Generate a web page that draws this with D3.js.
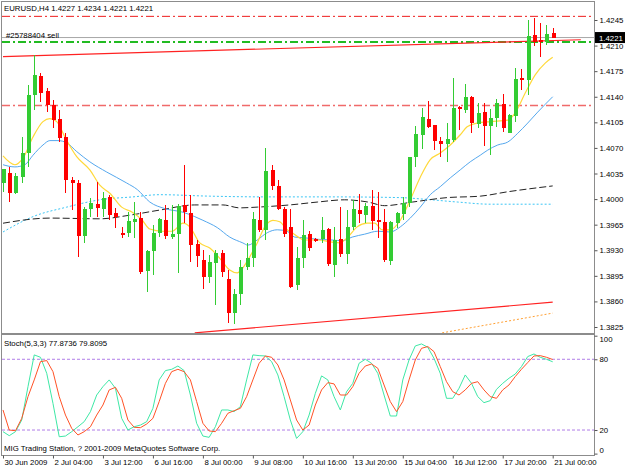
<!DOCTYPE html>
<html>
<head>
<meta charset="utf-8">
<style>
  body { margin: 0; background: white; }
  svg { display: block; background: white; font-family: 'Liberation Sans', Arial, sans-serif; }
  .axis text { fill: black; font-size: 7.8px; }
  .axis line { stroke: #555; }
  .axis path { display: none; }
  .lbl { font-size: 7.8px; fill: black; }
</style>
</head>
<body>
<div id="chart"></div>
<script src="https://d3js.org/d3.v7.min.js"></script>
<script>

// ---- data (EURUSD, H4) ----
var symbol = "EURUSD,H4";

var opens = [1.4022,1.4036,1.4008,1.4030,1.4063,1.4142,1.4168,1.4148,1.4129,1.4110,
  1.4085,1.4026,1.4022,1.3950,1.3987,1.3993,1.3987,1.4003,1.3981,1.3954,
  1.3954,1.3969,1.3974,1.3902,1.3929,1.3954,1.3971,1.3948,1.3952,1.3992,
  1.3981,1.3939,1.3917,1.3893,1.3913,1.3926,1.3891,1.3844,1.3870,1.3907,
  1.3919,1.3971,1.3958,1.4040,1.4018,1.3987,1.3962,1.3883,1.3919,1.3952,
  1.3945,1.3945,1.3959,1.3910,1.3945,1.3925,1.3962,1.3985,1.3978,1.3991,
  1.3971,1.3969,1.3915,1.3967,1.3980,1.3995,1.4058,1.4088,1.4110,1.4101,
  1.4079,1.4075,1.4081,1.4126,1.4122,1.4140,1.4103,1.4119,1.4100,1.4111,
  1.4130,1.4090,1.4114,1.4166,1.4163,1.4225,1.4218,1.4215,1.4227];
var highs = [1.4041,1.4044,1.4036,1.4085,1.4156,1.4197,1.4173,1.4152,1.4136,1.4122,
  1.4090,1.4030,1.4026,1.3989,1.4002,1.4023,1.4010,1.4006,1.3988,1.3962,
  1.3982,1.3996,1.3982,1.3930,1.3965,1.3974,1.3992,1.3992,1.3993,1.4047,
  1.4006,1.3944,1.3930,1.3924,1.3930,1.3930,1.3903,1.3877,1.3917,1.3940,
  1.3982,1.4003,1.4070,1.4047,1.4026,1.3989,1.3987,1.3935,1.3971,1.3956,
  1.3947,1.3976,1.3961,1.3962,1.3989,1.3985,1.3999,1.4007,1.3995,1.4013,
  1.4010,1.3987,1.3970,1.3982,1.4003,1.4058,1.4100,1.4125,1.4134,1.4101,
  1.4085,1.4104,1.4166,1.4127,1.4158,1.4141,1.4132,1.4132,1.4123,1.4137,
  1.4144,1.4116,1.4179,1.4178,1.4245,1.4248,1.4241,1.4238,1.4234];
var lows = [1.4010,1.3996,1.4007,1.4022,1.4044,1.4122,1.4133,1.4119,1.4097,1.4078,
  1.4008,1.3985,1.3921,1.3940,1.3976,1.3976,1.3976,1.3971,1.3961,1.3947,
  1.3948,1.3947,1.3898,1.3873,1.3896,1.3948,1.3945,1.3945,1.3899,1.3967,
  1.3914,1.3907,1.3877,1.3885,1.3855,1.3893,1.3831,1.3829,1.3855,1.3903,
  1.3907,1.3955,1.3944,1.4013,1.3985,1.3948,1.3878,1.3876,1.3906,1.3929,
  1.3941,1.3940,1.3909,1.3893,1.3921,1.3911,1.3958,1.3967,1.3967,1.3958,
  1.3947,1.3914,1.3910,1.3961,1.3971,1.3989,1.4044,1.4069,1.4097,1.4067,
  1.4058,1.4051,1.4078,1.4095,1.4118,1.4090,1.4097,1.4073,1.4060,1.4099,
  1.4092,1.4090,1.4106,1.4149,1.4142,1.4210,1.4194,1.4211,1.4221];
var closes = [1.4041,1.4008,1.4032,1.4063,1.4142,1.4170,1.4145,1.4129,1.4108,1.4084,
  1.4026,1.4022,1.3950,1.3987,1.3995,1.3988,1.4002,1.3978,1.3976,1.3951,
  1.3970,1.3973,1.3900,1.3929,1.3954,1.3973,1.3950,1.3952,1.3991,1.3982,
  1.3937,1.3922,1.3893,1.3914,1.3926,1.3900,1.3844,1.3870,1.3907,1.3919,
  1.3973,1.3958,1.4039,1.4018,1.3987,1.3952,1.3880,1.3919,1.3951,1.3933,
  1.3943,1.3958,1.3911,1.3944,1.3925,1.3962,1.3987,1.3980,1.3991,1.3970,
  1.3969,1.3917,1.3969,1.3981,1.3995,1.4058,1.4089,1.4112,1.4099,1.4079,
  1.4075,1.4082,1.4125,1.4123,1.4140,1.4104,1.4118,1.4100,1.4111,1.4132,
  1.4097,1.4115,1.4164,1.4163,1.4223,1.4215,1.4215,1.4226,1.4221];

// moving averages, [bar, price]
var maFast = [[0,1.4059],[1.9,1.4047],[3.2,1.4056],[4.8,1.4085],[6.4,1.4106],[7.5,1.4110],[8.6,1.4106],
  [9.9,1.4085],[11.8,1.4058],[13.9,1.4040],[15.5,1.4019],[17.1,1.4008],[19,1.3989],[20.7,1.3982],
  [22.3,1.3971],[23.5,1.3959],[25.5,1.3956],[27.1,1.3956],[28.8,1.3967],[29.9,1.3962],[31.5,1.3940],
  [33.1,1.3933],[34.7,1.3919],[36.3,1.3903],[37.5,1.3899],[38.4,1.3906],[39.5,1.3921],[40.7,1.3940],
  [41.9,1.3962],[43.2,1.3971],[44.3,1.3969],[45.5,1.3958],[46.3,1.3954],[48.3,1.3944],[50.4,1.3944],
  [52.7,1.3941],[53.9,1.3940],[55.2,1.3948],[56.7,1.3962],[58.3,1.3967],[59.5,1.3967],[60.7,1.3958],
  [62,1.3958],[63.6,1.3971],[65.2,1.3999],[66.8,1.4030],[68.4,1.4054],[70,1.4063],[71.6,1.4074],
  [73.2,1.4088],[74.3,1.4099],[75.9,1.4104],[78,1.4106],[80.8,1.4108],[82,1.4118],[83.6,1.4145],
  [85.2,1.4170],[86.8,1.4186],[88,1.4194]];
var maSlow = [[0,1.4047],[1.9,1.4044],[3.5,1.4047],[4.8,1.4060],[6.4,1.4074],[7.5,1.4080],[8.8,1.4080],
  [10.2,1.4077],[11.8,1.4065],[13.9,1.4051],[16.6,1.4037],[19.8,1.4022],[21.5,1.4013],[23.5,1.3996],
  [25.9,1.3987],[28.8,1.3982],[30.7,1.3976],[32,1.3971],[34.3,1.3961],[36.3,1.3948],[38.4,1.3940],
  [39.2,1.3937],[40.7,1.3944],[42.3,1.3954],[43.9,1.3958],[45.5,1.3956],[46.7,1.3948],[48.3,1.3947],
  [50.4,1.3945],[52.7,1.3944],[54.3,1.3943],[55.9,1.3948],[57.9,1.3952],[60,1.3956],[62,1.3955],
  [63.6,1.3962],[65.2,1.3974],[66.8,1.3989],[68.4,1.4006],[70,1.4017],[71.6,1.4029],[73.2,1.4040],
  [74.8,1.4051],[76.4,1.4060],[77.6,1.4067],[79.2,1.4074],[80.8,1.4078],[82.4,1.4090],[84,1.4104],
  [85.6,1.4119],[88,1.4140]];
var maLongDashed = [[0,1.3967],[7.5,1.3974],[15.5,1.3973],[20.3,1.3978],[25.1,1.3985],[30.7,1.3992],
  [35.2,1.3992],[37.9,1.3988],[40.7,1.3989],[45.9,1.3992],[50.4,1.3996],[54.7,1.3999],[58.4,1.3996],
  [61.1,1.3991],[65.6,1.3996],[71.1,1.4002],[76.4,1.4004],[80.8,1.4010],[88,1.4018]];
var maLongDotted = [[0,1.3955],[4.8,1.3976],[10.2,1.3989],[15.5,1.3999],[20.8,1.4003],[25.1,1.4006],
  [33.1,1.4004],[42.3,1.4003],[52.8,1.4003],[63.6,1.4002],[67.2,1.4000],[72.7,1.3996],[78,1.3993],[88,1.3993]];

// trend lines and horizontal levels
var trendUpper = [[0,1.4195],[92.5,1.4218]];
var trendLower = [[30.7,1.3817],[88,1.3859]];
var trendOrange = [[70.3,1.3817],[88,1.3844]];
var levelTop = 1.4250, levelMid = 1.4128, levelOrder = 1.4215, levelBid = 1.4221;
var orderLabel = "#25788404 sell";

// stochastic (5,3,3)
var stochMain = [18.6,15.2,18.6,28.5,56.8,83.7,81.7,68.1,42.6,14.3,
  14.9,18.6,22.8,27.1,35.6,49.7,56.8,62.5,55.4,29.9,
  20.0,22.8,24.2,27.1,38.4,62.5,70.4,71.5,74.3,70.4,
  49.7,25.7,14.9,13.8,22.8,37.0,37.0,35.6,39.8,62.5,
  83.7,83.1,82.8,78.0,66.7,48.3,28.5,12.9,18.6,32.7,
  51.1,65.9,62.5,48.3,37.0,52.5,59.6,76.6,80.0,76.6,
  68.1,49.7,31.9,31.9,62.5,79.4,91.3,93.0,90.2,80.8,
  68.1,46.9,46.9,55.4,66.7,59.6,48.3,43.2,44.9,54.5,
  59.6,63.9,67.5,73.8,82.3,84.5,81.7,80.0,77.8736];
var stochSignal = [37.0,20.0,19.4,29.9,48.3,62.5,78.0,78.9,69.5,48.3,
  32.7,21.4,15.8,18.6,22.8,32.7,41.2,54.0,56.2,46.9,
  28.5,22.3,22.0,25.1,29.9,44.1,59.6,69.5,71.5,69.5,
  62.5,44.1,25.7,19.2,18.6,25.7,34.2,36.4,38.4,48.3,
  62.5,76.6,82.8,81.7,75.2,62.5,45.5,28.5,20.0,24.2,
  41.2,54.0,60.2,59.1,49.7,49.7,56.8,68.1,74.3,76.0,
  72.4,58.2,44.1,35.6,44.1,62.5,79.4,89.3,90.8,86.5,
  73.8,61.0,52.5,49.7,54.0,59.6,61.0,54.0,48.3,46.9,
  54.0,58.2,65.3,71.5,77.2,82.8,83.1,81.7,79.8095];
var stochLevels = [80, 20];
var stochTicks = [100, 80, 20, 0];

// axes
var priceTicks = [1.4245,1.4210,1.4175,1.4140,1.4105,1.4070,1.4035,1.4000,1.3965,1.3930,1.3895,1.3860,1.3825];
var timeLabels = ["30 Jun 2009","2 Jul 04:00","3 Jul 12:00","6 Jul 16:00","8 Jul 00:00","9 Jul 08:00",
  "10 Jul 16:00","13 Jul 20:00","15 Jul 04:00","16 Jul 12:00","17 Jul 20:00","21 Jul 00:00"];
var timeLabelBars = [0,8,16,24,32,40,48,56,64,72,80,88];

// ---- layout ----
var W = 625, H = 469;
var left = 2, right = 594, mainTop = 2, mainBottom = 333, stTop = 335, stBottom = 455;

var svg = d3.select("#chart").append("svg")
  .attr("width", W).attr("height", H);

var x = d3.scaleLinear().domain([0, 88]).range([3, 552.7]);
var y = d3.scaleLinear().domain([1.3825, 1.4245]).range([327, 20]);
var ys = d3.scaleLinear().domain([0, 100]).range([453.6, 335.7]);

svg.append("clipPath").attr("id", "clipMain")
  .append("rect").attr("x", left).attr("y", mainTop).attr("width", right - left).attr("height", mainBottom - mainTop);
svg.append("clipPath").attr("id", "clipSt")
  .append("rect").attr("x", left).attr("y", stTop).attr("width", right - left).attr("height", stBottom - stTop);

var main = svg.append("g").attr("clip-path", "url(#clipMain)");
var st = svg.append("g").attr("clip-path", "url(#clipSt)");

// horizontal levels
function hline(g, price, color, width, dash) {
  g.append("line")
    .attr("x1", left).attr("x2", right)
    .attr("y1", y(price)).attr("y2", y(price))
    .attr("stroke", color).attr("stroke-width", width)
    .attr("stroke-dasharray", dash);
}
hline(main, levelTop, "#ee1c1c", 1, "8,3,2,3");
hline(main, levelMid, "#f06a6a", 1.3, "8,3,2,3");
hline(main, levelBid, "#a8a8a8", 1, null);
hline(main, levelOrder, "#22bb22", 2, "8,3,2,3");

// trend lines
var tline = d3.line().x(function(d) { return x(d[0]); }).y(function(d) { return y(d[1]); });
main.append("path").datum(trendUpper).attr("d", tline)
  .attr("fill", "none").attr("stroke", "#f22").attr("stroke-width", 1.2);
main.append("path").datum(trendLower).attr("d", tline)
  .attr("fill", "none").attr("stroke", "#f22").attr("stroke-width", 1.2);
main.append("path").datum(trendOrange).attr("d", tline)
  .attr("fill", "none").attr("stroke", "#ffa033").attr("stroke-width", 1).attr("stroke-dasharray", "2,2");

// moving averages
var maLine = d3.line().curve(d3.curveMonotoneX)
  .x(function(d) { return x(d[0]); }).y(function(d) { return y(d[1]); });
main.append("path").datum(maLongDotted).attr("d", maLine)
  .attr("fill", "none").attr("stroke", "#3cc6f5").attr("stroke-width", 1).attr("stroke-dasharray", "2,2");
main.append("path").datum(maLongDashed).attr("d", maLine)
  .attr("fill", "none").attr("stroke", "#222").attr("stroke-width", 1).attr("stroke-dasharray", "7,3");
main.append("path").datum(maSlow).attr("d", maLine)
  .attr("fill", "none").attr("stroke", "#55a8ee").attr("stroke-width", 1);
main.append("path").datum(maFast).attr("d", maLine)
  .attr("fill", "none").attr("stroke", "#ffd93a").attr("stroke-width", 1.2);

// candles
var bars = d3.range(opens.length);
var candle = main.selectAll(".candle").data(bars).enter().append("g")
  .attr("class", "candle")
  .attr("shape-rendering", "crispEdges");
candle.append("line")
  .attr("x1", function(i) { return Math.round(x(i)) + 0.5; })
  .attr("x2", function(i) { return Math.round(x(i)) + 0.5; })
  .attr("y1", function(i) { return y(highs[i]); })
  .attr("y2", function(i) { return y(lows[i]); })
  .attr("stroke", function(i) { return closes[i] >= opens[i] ? "#33cc33" : "#ff0000"; });
candle.append("rect")
  .attr("x", function(i) { return Math.round(x(i)) - 1.5; })
  .attr("width", 4)
  .attr("y", function(i) { return y(Math.max(opens[i], closes[i])); })
  .attr("height", function(i) { return Math.max(1, Math.abs(y(opens[i]) - y(closes[i]))); })
  .attr("fill", function(i) { return closes[i] >= opens[i] ? "#33cc33" : "#ff0000"; });

// stochastic
stochLevels.forEach(function(v) {
  st.append("line").attr("x1", left).attr("x2", right)
    .attr("y1", ys(v)).attr("y2", ys(v))
    .attr("stroke", "#b07ce8").attr("stroke-width", 1).attr("stroke-dasharray", "3,2");
});
var stLine = d3.line().x(function(d, i) { return x(i); }).y(function(d) { return ys(d); });
st.append("path").datum(stochMain).attr("d", stLine)
  .attr("fill", "none").attr("stroke", "#3ee8a6").attr("stroke-width", 1);
st.append("path").datum(stochSignal).attr("d", stLine)
  .attr("fill", "none").attr("stroke", "#ff5226").attr("stroke-width", 1);

// frames
svg.append("rect").attr("x", left - 0.5).attr("y", mainTop - 0.5)
  .attr("width", right - left + 1).attr("height", stBottom - mainTop + 1)
  .attr("fill", "none").attr("stroke", "#8c8c8c");
svg.append("line").attr("x1", left).attr("x2", right + 1).attr("y1", 334).attr("y2", 334)
  .attr("stroke", "#8c8c8c").attr("stroke-width", 2);

// price axis
var yAxis = svg.append("g").attr("class", "axis")
  .attr("transform", "translate(" + (right + 0.5) + ",0)")
  .call(d3.axisRight(y).tickValues(priceTicks).tickSize(3).tickPadding(2).tickFormat(d3.format(".4f")));

// current price box
var bidG = svg.append("g").attr("transform", "translate(" + (right + 1) + "," + y(levelBid) + ")");
bidG.append("rect").attr("x", 0).attr("y", -5.5).attr("width", 30).attr("height", 11).attr("fill", "black");
bidG.append("text").attr("x", 4).attr("y", 3).attr("class", "lbl")
  .style("fill", "white").text(d3.format(".4f")(levelBid));

// stochastic axis
var sAxis = svg.append("g").attr("class", "axis")
  .attr("transform", "translate(" + (right + 0.5) + ",0)")
  .call(d3.axisRight(ys).tickValues(stochTicks).tickSize(3).tickPadding(2));
sAxis.selectAll(".tick").filter(function(d) { return d === 100; }).select("text").attr("dy", "0.7em");
sAxis.selectAll(".tick").filter(function(d) { return d === 0; }).select("text").attr("dy", "-0.1em");

// time axis
var xAxis = svg.append("g").attr("class", "axis")
  .attr("transform", "translate(0," + (stBottom + 0.5) + ")")
  .call(d3.axisBottom(x).tickValues(timeLabelBars).tickSize(3).tickPadding(1)
    .tickFormat(function(d, i) { return timeLabels[i]; }));
xAxis.selectAll("text").attr("text-anchor", "start").attr("x", 1);

// labels
var last = opens.length - 1;
var fmt = d3.format(".4f");
svg.append("text").attr("class", "lbl").attr("x", 4).attr("y", 11)
  .text(symbol + "  " + fmt(opens[last]) + " " + fmt(highs[last]) + " " + fmt(lows[last]) + " " + fmt(closes[last]));
svg.append("text").attr("class", "lbl").attr("x", 6).attr("y", y(levelBid) + 0.5)
  .text(orderLabel);
svg.append("text").attr("class", "lbl").attr("x", 4).attr("y", 346)
  .text("Stoch(5,3,3) " + fmt(stochMain[last]) + " " + fmt(stochSignal[last]));
svg.append("text").attr("class", "lbl").attr("x", 4).attr("y", 451)
  .text("MIG Trading Station, ? 2001-2009 MetaQuotes Software Corp.");

</script>
</body>
</html>
